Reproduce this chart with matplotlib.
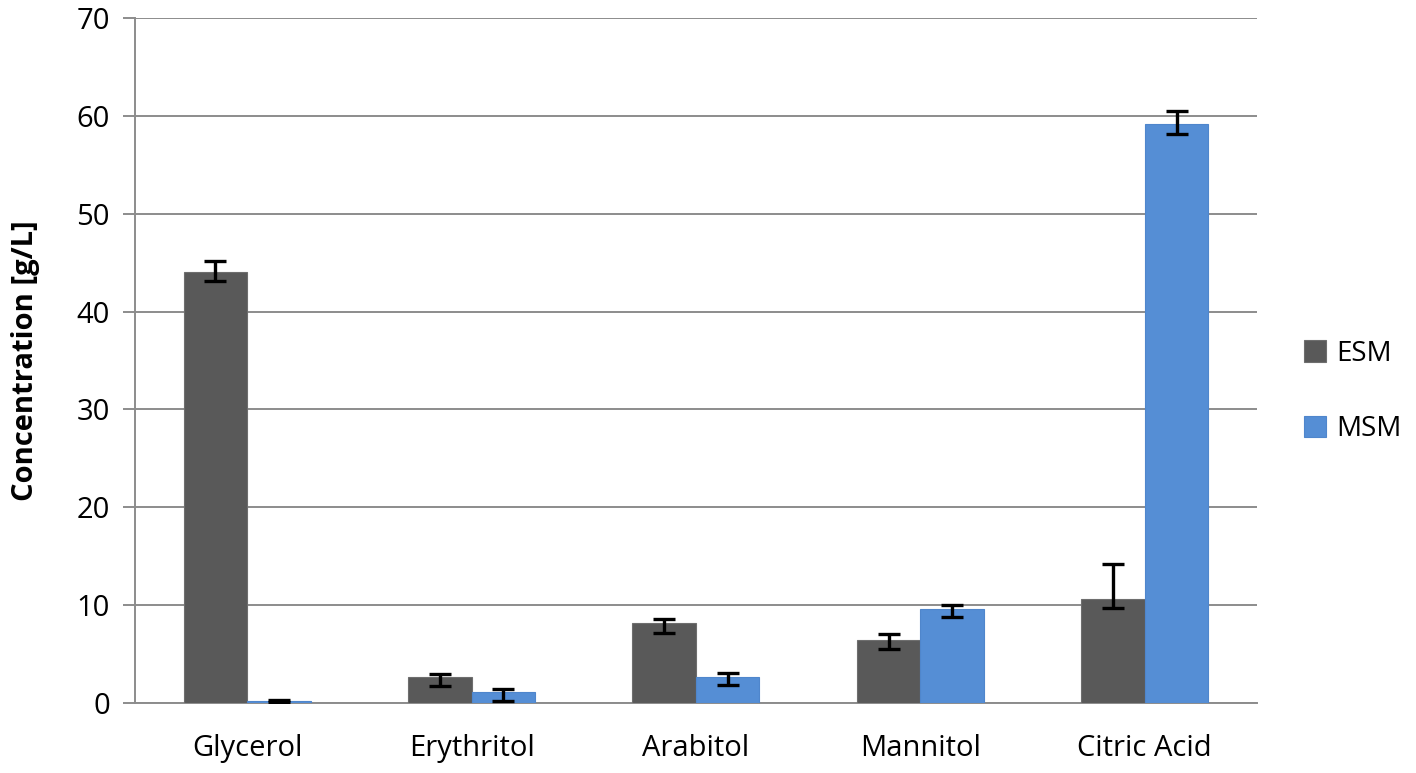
import numpy as np
import matplotlib.pyplot as plt

plt.rcParams['font.family'] = ['Open Sans', 'DejaVu Sans']

# data
categories = ['Glycerol', 'Erythritol', 'Arabitol', 'Mannitol', 'Citric Acid']
esm = [44.0, 2.7, 8.2, 6.4, 10.6]
esm_lo = [0.9, 1.0, 1.1, 0.9, 0.9]
esm_hi = [1.2, 0.3, 0.4, 0.6, 3.6]
msm = [0.2, 1.1, 2.7, 9.6, 59.2]
msm_lo = [0.1, 0.9, 0.9, 0.8, 1.1]
msm_hi = [0.1, 0.3, 0.4, 0.4, 1.3]
yticks = [0, 10, 20, 30, 40, 50, 60, 70]

fig = plt.figure(figsize=(14.16, 7.73), dpi=100)
ax = fig.add_axes([0.0953, 0.0906, 0.7924, 0.8861])

x = np.arange(len(categories))
w = 0.283
err_kw = dict(ecolor='black', elinewidth=2.4, capsize=8, capthick=2.4)
ax.bar(x - w / 2, esm, w, color='#595959', edgecolor='#6e6e6e', linewidth=0.8,
       yerr=[esm_lo, esm_hi], error_kw=err_kw, label='ESM', zorder=3)
ax.bar(x + w / 2, msm, w, color='#558ed5', edgecolor='#4f86cc', linewidth=0.8,
       yerr=[msm_lo, msm_hi], error_kw=err_kw, label='MSM', zorder=3)

ax.set_xlim(-0.5, len(categories) - 0.5)
ax.set_ylim(0, 70)
ax.set_yticks(yticks)
ax.set_xticks(x)
ax.set_xticklabels(categories)
ax.grid(axis='y', color='#8c8c8c', linewidth=1.4, zorder=0)
ax.set_axisbelow(True)

for s in ['top', 'right']:
    ax.spines[s].set_visible(False)
ax.spines['left'].set_color('#8c8c8c')
ax.spines['bottom'].set_color('#8c8c8c')
ax.spines['left'].set_linewidth(1.4)
ax.spines['bottom'].set_linewidth(1.4)
ax.tick_params(axis='y', length=9, width=1.4, color='#8c8c8c', labelsize=21, pad=9)
ax.tick_params(axis='x', length=0, labelsize=21, pad=22)

ax.set_ylabel('Concentration [g/L]', fontsize=21, fontweight='bold', labelpad=26)

ax.legend(loc='center left', bbox_to_anchor=(1.042, 0.455), frameon=False,
          borderpad=0, borderaxespad=0,
          fontsize=20, handlelength=0.8, handleheight=0.8, handletextpad=0.35,
          labelspacing=1.7)

fig.savefig('out.png', dpi=100)
